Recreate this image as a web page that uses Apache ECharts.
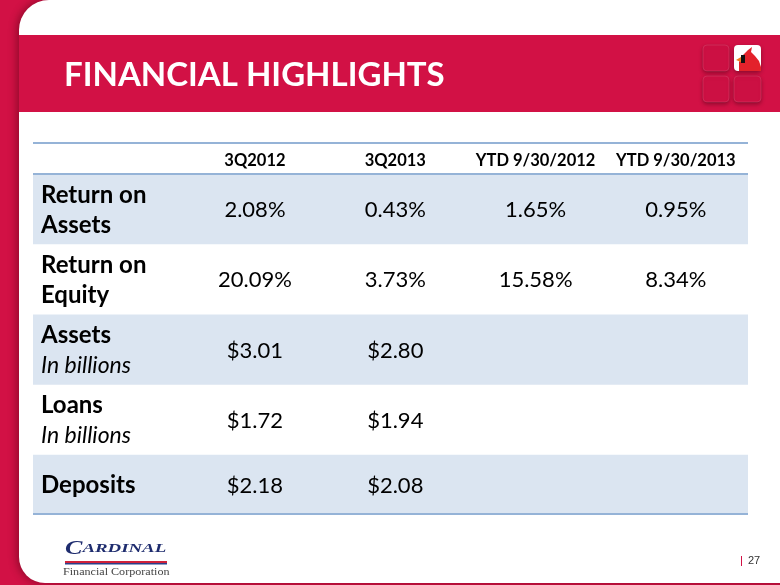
<!DOCTYPE html>
<html><head><meta charset="utf-8">
<script src="https://cdn.jsdelivr.net/npm/echarts@6/dist/echarts.min.js"></script>
<style>html,body{margin:0;padding:0;background:#fff}#c{width:780px;height:585px}</style>
</head><body><div id="c"></div>
<script>
// ---- data ----
const title = 'FINANCIAL HIGHLIGHTS';
const columns = ['3Q2012', '3Q2013', 'YTD 9/30/2012', 'YTD 9/30/2013'];
const rowTitles = [['Return on', 'Assets'], ['Return on', 'Equity'], ['Assets'], ['Loans'], ['Deposits']];
const rowNotes = ['', '', 'In billions', 'In billions', ''];
const rowUnits = ['%', '%', '$', '$', '$'];
const q3_2012 = [2.08, 20.09, 3.01, 1.72, 2.18];
const q3_2013 = [0.43, 3.73, 2.80, 1.94, 2.08];
const ytd_2012 = [1.65, 15.58, null, null, null];
const ytd_2013 = [0.95, 8.34, null, null, null];
const pageNumber = '27';

// ---- layout / style ----
const RED = '#D21145';
const SHADE = '#DBE5F1';
const RULE = '#95B3D7';
const FONT = 'Lato';
const Y_MIN = -0.443, Y_MAX = 4.843;

const colValues = [q3_2012, q3_2013, ytd_2012, ytd_2013];
function fmt(v, unit) {
  if (v === null || v === undefined) return '';
  return unit === '%' ? v.toFixed(2) + '%' : '$' + v.toFixed(2);
}
const cellData = [];
colValues.forEach((arr, c) => arr.forEach((v, r) => {
  const t = fmt(v, rowUnits[r]);
  if (t) cellData.push([c + 1, r, t]);
}));
const headerData = columns.map((name, c) => [c + 1, 0, name]);
const rowData = rowTitles.map((t, r) => [0, r]);

function bandExtent(api, cs, r) {
  const top = Math.max(api.coord([0, r])[1], cs.y);
  const bot = Math.min(api.coord([0, r + 1])[1], cs.y + cs.height);
  return [top, bot];
}

const sq = (x, y, w, h) => ({type: 'rect', z: 2, shape: {x: x, y: y, width: w, height: h, r: 4},
  style: {fill: '#CC1043', stroke: 'rgba(255,255,255,0.12)', lineWidth: 1, shadowColor: 'rgba(0,0,0,0.35)', shadowBlur: 4, shadowOffsetY: 2}});

const chart = echarts.init(document.getElementById('c'), null, {renderer: 'canvas'});
chart.setOption({
  backgroundColor: RED,
  animation: false,
  grid: {left: 33, right: 32, top: 143, bottom: 71},
  xAxis: {type: 'value', min: -0.582, max: 4.514, show: false},
  yAxis: {type: 'value', min: Y_MIN, max: Y_MAX, inverse: true, show: false},
  graphic: [
    // white slide panel
    {type: 'rect', z: 0, shape: {x: 19, y: 0, width: 800, height: 583, r: [30, 0, 0, 26]},
      style: {fill: '#fff', shadowColor: 'rgba(60,0,10,0.45)', shadowBlur: 8, shadowOffsetX: -2}},
    // title band
    {type: 'rect', z: 1, shape: {x: 19, y: 35, width: 770, height: 77}, style: {fill: RED}},
    {type: 'text', z: 2, style: {x: 64, y: 75, text: title, fill: '#fff', font: 'bold 33px ' + FONT, verticalAlign: 'middle'}},
    // logo squares
    sq(703, 45, 26, 26), sq(703, 76, 26, 26), sq(734, 76, 27, 26),
    {type: 'rect', z: 2, shape: {x: 734, y: 45, width: 27, height: 26, r: 4},
      style: {fill: '#fff', shadowColor: 'rgba(0,0,0,0.35)', shadowBlur: 4, shadowOffsetY: 2}},
    // cardinal bird
    {type: 'polygon', z: 3, shape: {points: [[739, 71], [739, 62], [743, 55], [748, 50], [752, 47], [751, 52], [755, 56], [759, 61], [761, 67], [761, 71]]},
      style: {fill: '#E3222B'}},
    {type: 'polygon', z: 4, shape: {points: [[736, 60], [741, 57], [741, 62]]}, style: {fill: '#F07C1C'}},
    {type: 'rect', z: 4, shape: {x: 741, y: 55, width: 4, height: 8}, style: {fill: '#111'}},
    // bottom logo
    {type: 'text', z: 2, x: 65, y: 558, scaleX: 1.45, style: {x: 0, y: 0, text: '{a|C}{b|ARDINAL}', verticalAlign: 'bottom',
      rich: {a: {font: 'italic bold 18px "Liberation Serif"', fill: '#1E2C6E'}, b: {font: 'italic bold 13px "Liberation Serif"', fill: '#1E2C6E'}}}},
    {type: 'rect', z: 2, shape: {x: 65, y: 561, width: 102, height: 2}, style: {fill: '#D0223A'}},
    {type: 'rect', z: 2, shape: {x: 65, y: 563, width: 102, height: 1.5}, style: {fill: '#2B3F8A'}},
    {type: 'text', z: 2, x: 63, y: 572, scaleX: 1.1, style: {x: 0, y: 0, text: 'Financial Corporation', fill: '#444', font: '11px "Liberation Serif"', verticalAlign: 'middle'}},
    // page number
    {type: 'rect', z: 2, shape: {x: 741, y: 556, width: 1, height: 10}, style: {fill: '#D21145'}},
    {type: 'text', z: 2, style: {x: 748, y: 561, text: pageNumber, fill: '#333', font: '11px "Liberation Sans"', verticalAlign: 'middle'}}
  ],
  series: [
    {
      type: 'custom', name: 'rows', z: 3,
      data: rowData,
      renderItem: function (params, api) {
        const r = api.value(1);
        const cs = params.coordSys;
        const [top, bot] = bandExtent(api, cs, r);
        const children = [];
        if (r % 2 === 0) children.push({type: 'rect', shape: {x: cs.x, y: top, width: cs.width, height: bot - top}, style: {fill: SHADE}});
        const lines = rowTitles[r].map(t => '{b|' + t + '}');
        if (rowNotes[r]) lines.push('{i|' + rowNotes[r] + '}');
        children.push({type: 'text', style: {x: cs.x + 8, y: (top + bot) / 2 + 1, text: lines.join('\n'), align: 'left', verticalAlign: 'middle',
          rich: {b: {fontFamily: FONT, fontWeight: 'bold', fontSize: 24, lineHeight: 30, fill: '#000'},
                 i: {fontFamily: FONT, fontStyle: 'italic', fontSize: 23, lineHeight: 30, fill: '#000'}}}});
        return {type: 'group', children: children};
      }
    },
    {
      type: 'custom', name: 'rules', z: 4,
      data: [[0, Y_MIN], [0, 0], [0, Y_MAX]],
      renderItem: function (params, api) {
        const cs = params.coordSys;
        const y = api.coord([0, api.value(1)])[1];
        return {type: 'rect', shape: {x: cs.x, y: y - 1, width: cs.width, height: 2}, style: {fill: RULE}};
      }
    },
    {
      type: 'custom', name: 'header', z: 5,
      data: headerData,
      renderItem: function (params, api) {
        const p = api.coord([api.value(0), 0]);
        return {type: 'text', style: {x: p[0], y: p[1] - 13, text: columns[api.value(0) - 1], align: 'center', verticalAlign: 'middle',
          font: 'bold 16.5px ' + FONT, fill: '#000'}};
      }
    },
    {
      type: 'custom', name: 'cells', z: 5,
      data: cellData,
      renderItem: function (params, api) {
        const c = api.value(0), r = api.value(1);
        const cs = params.coordSys;
        const [top, bot] = bandExtent(api, cs, r);
        const x = api.coord([c, 0])[0];
        return {type: 'text', style: {x: x, y: (top + bot) / 2 + 1, text: cellData[params.dataIndex][2], align: 'center', verticalAlign: 'middle',
          font: '22px ' + FONT, fill: '#000'}};
      }
    }
  ]
});
</script>
</body></html>
